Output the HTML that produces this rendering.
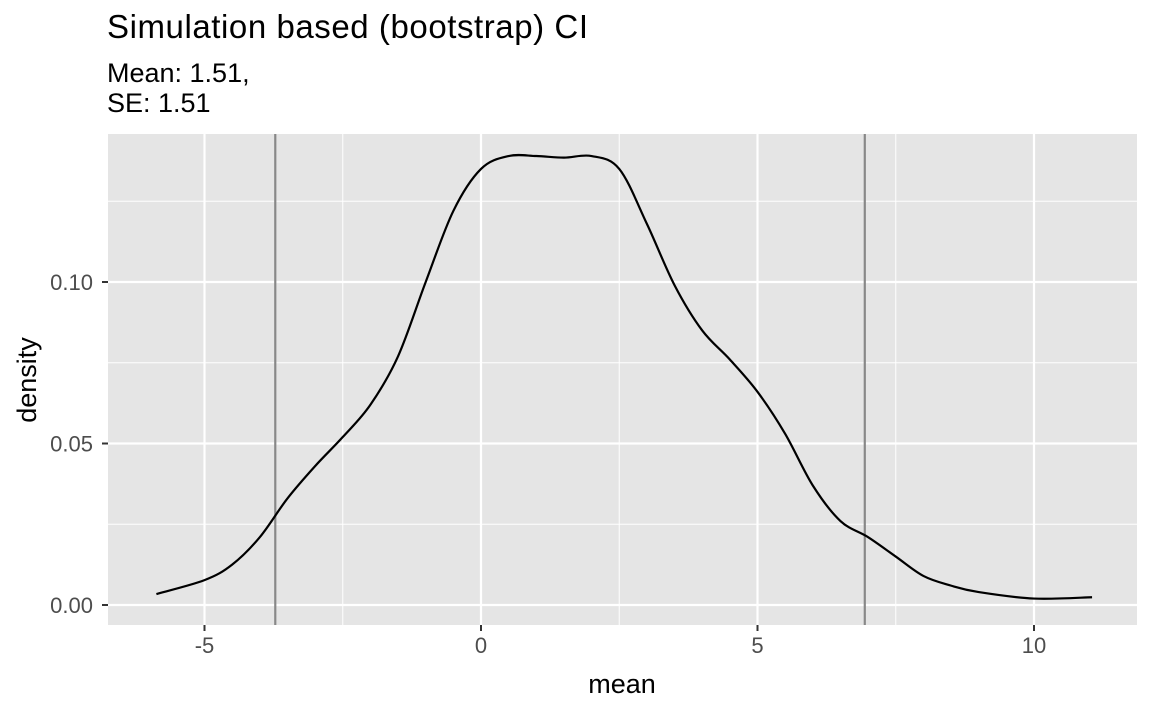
<!DOCTYPE html>
<html><head><meta charset="utf-8"><style>
body{margin:0;background:#fff}
svg{display:block;font-family:"Liberation Sans",Arial,sans-serif}
</style></head><body>
<svg id="chart" width="1152" height="711" viewBox="0 0 1152 711">
<rect x="0" y="0" width="1152" height="711" fill="#fff"/>
<text x="107" y="38" font-size="33" textLength="481" fill="#000">Simulation based (bootstrap) CI</text>
<text x="107" y="82" font-size="27" fill="#000">Mean: 1.51,</text>
<text x="107" y="112" font-size="27" fill="#000">SE: 1.51</text>
<rect x="108" y="134" width="1029" height="491" fill="#e5e5e5"/>
<g id="grid"></g>
<g id="marks"></g>
<g id="axes"></g>
<text x="622" y="693" font-size="27" text-anchor="middle" fill="#000">mean</text>
<text transform="translate(36,380) rotate(-90)" font-size="27" text-anchor="middle" fill="#000">density</text>
</svg>
<script>
const xs=[-5.87,-5,-4.5,-4,-3.5,-3,-2.5,-2,-1.5,-1,-0.5,0,0.5,1,1.5,2,2.5,3,3.5,4,4.5,5,5.5,6,6.5,7,7.5,8,8.5,9,10,11.05];
const ys=[0.0034,0.0077,0.0125,0.021,0.033,0.043,0.052,0.062,0.077,0.1,0.122,0.135,0.139,0.139,0.1385,0.139,0.135,0.118,0.099,0.085,0.076,0.066,0.053,0.037,0.026,0.021,0.015,0.009,0.006,0.004,0.002,0.0024];
const ciBounds=[-3.72,6.94];
const xTicks=[-5,0,5,10];
const xTickLabels=["-5","0","5","10"];
const xMinor=[-2.5,2.5,7.5];
const yTicks=[0,0.05,0.10];
const yTickLabels=["0.00","0.05","0.10"];
const yMinor=[0.025,0.075,0.125];
const NS="http://www.w3.org/2000/svg";
const L=108,R=1137,T=134,B=625;
const X=v=>481+(v-0)*55.3;
const Y=v=>605-v*3230;
function mk(tag,attrs,parent){const e=document.createElementNS(NS,tag);for(const k in attrs)e.setAttribute(k,attrs[k]);document.getElementById(parent).appendChild(e);return e;}
xMinor.forEach(v=>{const e=mk('line',{x1:X(v),x2:X(v),y1:T,y2:B,stroke:'#fff','stroke-width':1},'grid');

});
yMinor.forEach(v=>{const e=mk('line',{x1:L,x2:R,y1:Y(v),y2:Y(v),stroke:'#fff','stroke-width':1},'grid');

});
xTicks.forEach((v,i)=>{const e=mk('line',{x1:X(v),x2:X(v),y1:T,y2:B,stroke:'#fff','stroke-width':2.2},'grid');


const t=mk('line',{x1:X(v),x2:X(v),y1:B,y2:B+6,stroke:'#333','stroke-width':2},'axes');


const l=mk('text',{x:X(v),y:B+28,'font-size':22,'text-anchor':'middle',fill:'#4d4d4d'},'axes');l.textContent=xTickLabels[i];

});
yTicks.forEach((v,i)=>{const e=mk('line',{x1:L,x2:R,y1:Y(v),y2:Y(v),stroke:'#fff','stroke-width':2.2},'grid');


const t=mk('line',{x1:L-6,x2:L,y1:Y(v),y2:Y(v),stroke:'#333','stroke-width':2},'axes');


const l=mk('text',{x:L-15,y:Y(v)+8,'font-size':22,'text-anchor':'end',fill:'#4d4d4d'},'axes');l.textContent=yTickLabels[i];

});
ciBounds.forEach(v=>{const e=mk('line',{x1:X(v),x2:X(v),y1:T,y2:B,stroke:'#888','stroke-width':2.2},'marks');

});
const pts=xs.map((v,i)=>[X(v),Y(ys[i])]);
let d='M'+pts[0][0]+','+pts[0][1];
for(let i=0;i<pts.length-1;i++){const p0=pts[Math.max(0,i-1)],p1=pts[i],p2=pts[i+1],p3=pts[Math.min(pts.length-1,i+2)];
d+=` C${p1[0]+(p2[0]-p0[0])/6},${p1[1]+(p2[1]-p0[1])/6} ${p2[0]-(p3[0]-p1[0])/6},${p2[1]-(p3[1]-p1[1])/6} ${p2[0]},${p2[1]}`;}
const c=mk('path',{d:d,fill:'none',stroke:'#000','stroke-width':2.2},'marks');


</script>
</body></html>
